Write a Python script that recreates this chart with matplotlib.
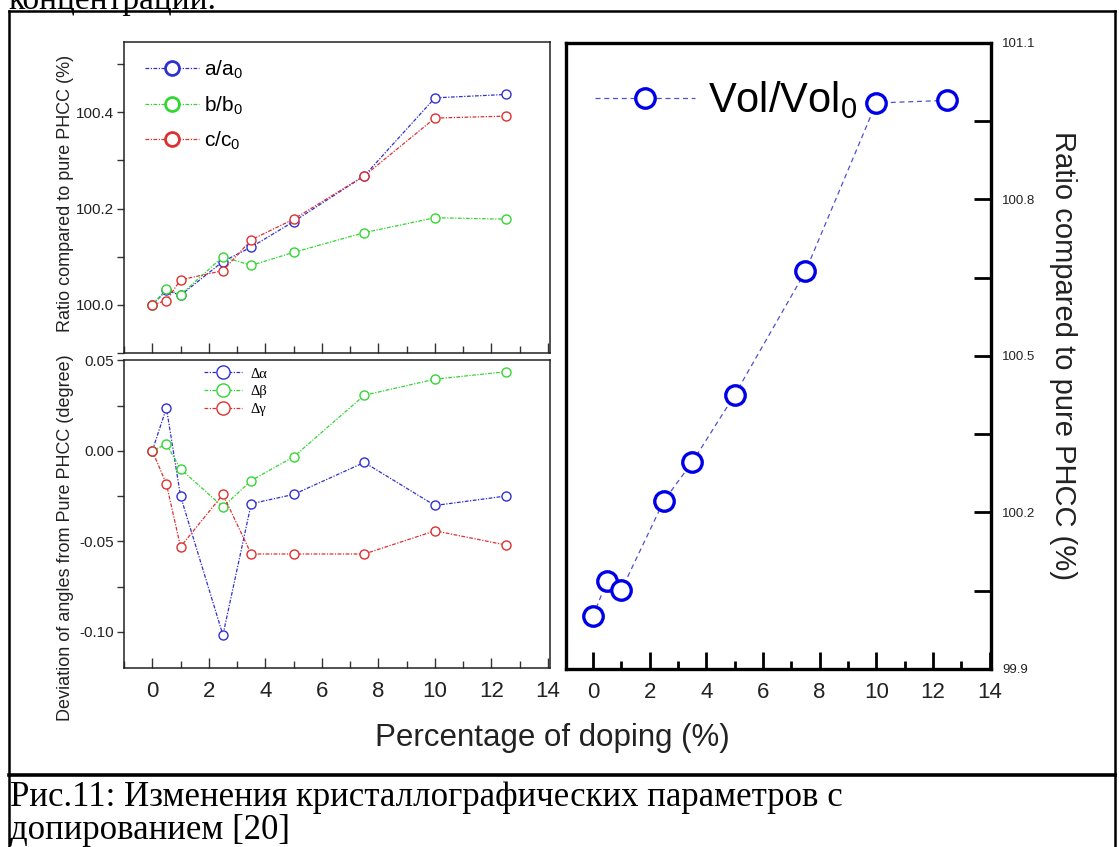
import numpy as np
import matplotlib
matplotlib.use("Agg")
import matplotlib.pyplot as plt
from matplotlib.ticker import MultipleLocator, FixedLocator, FuncFormatter, NullFormatter
from matplotlib.lines import Line2D

plt.rcParams['font.family'] = ['Liberation Sans', 'DejaVu Sans']
plt.rcParams['mathtext.fontset'] = 'custom'
plt.rcParams['mathtext.rm'] = 'Liberation Sans'

# ----------- DATA ------------
doping = [0, 0.5, 1, 2.5, 3.5, 5, 7.5, 10, 12.5]

a_ratio = [100.0, 100.03, 100.02, 100.09, 100.12, 100.173, 100.268, 100.43, 100.437]
b_ratio = [100.0, 100.033, 100.021, 100.10, 100.082, 100.109, 100.15, 100.181, 100.178]
c_ratio = [100.0, 100.009, 100.052, 100.071, 100.135, 100.178, 100.268, 100.388, 100.392]

d_alpha = [0.0, 0.0237, -0.025, -0.1018, -0.0292, -0.0241, -0.0064, -0.0302, -0.025]
d_beta = [0.0, 0.0037, -0.010, -0.031, -0.0164, -0.0033, 0.0307, 0.0396, 0.0437]
d_gamma = [0.0, -0.0183, -0.053, -0.0241, -0.057, -0.057, -0.057, -0.0442, -0.052]

vol_ratio = [100.001, 100.069, 100.051, 100.222, 100.296, 100.425, 100.662, 100.985, 100.99]

vol_major = [99.9, 100.2, 100.5, 100.8, 101.1]
vol_minor = [100.05, 100.35, 100.65, 100.95]

lattice_labels = [r'a/a$_\mathregular{0}$', r'b/b$_\mathregular{0}$', r'c/c$_\mathregular{0}$']
angle_labels = ['\u0394\u03b1', '\u0394\u03b2', '\u0394\u03b3']
vol_label = r'Vol/Vol$_\mathregular{0}$'

top_text = 'концентрации.'
caption_1 = 'Рис.11: Изменения кристаллографических параметров с'
caption_2 = 'допированием [20]'

# ----------- STYLE ------------
BLUE = '#3030d0'
GREEN = '#33d633'
RED = '#dd3030'
VBLUE = '#0000e8'
dashdot = (0, (3, 1.2, 1, 1.2))

W, H = 1119, 847
fig = plt.figure(figsize=(W / 100, H / 100), dpi=100)


def box(x0, y0, x1, y1):
    # pixel box (top-left origin) -> figure rect
    return [x0 / W, 1 - y1 / H, (x1 - x0) / W, (y1 - y0) / H]


# ----------- DOCUMENT FRAME ------------
fig.add_artist(Line2D([9 / W, 1115 / W], [1 - 11 / H, 1 - 11 / H], color='black', lw=1.8))
fig.add_artist(Line2D([9 / W, 9 / W], [1 - 11 / H, 0], color='black', lw=1.8))
fig.add_artist(Line2D([1115 / W, 1115 / W], [1 - 11 / H, 0], color='black', lw=1.8))
fig.add_artist(Line2D([9 / W, 1115 / W], [1 - 775 / H, 1 - 775 / H], color='black', lw=2.6))

fig.text(8 / W, 1 - 9 / H, top_text, family='Liberation Serif', fontsize=24,
         va='baseline', ha='left')
fig.text(10 / W, 1 - 806 / H, caption_1, family='Liberation Serif', fontsize=25,
         va='baseline', ha='left')
fig.text(10 / W, 1 - 839 / H, caption_2, family='Liberation Serif', fontsize=25,
         va='baseline', ha='left')

# ----------- TOP LEFT: lattice ratios ------------
ax1 = fig.add_axes(box(124, 42, 550, 353))
for vals, col in [(a_ratio, BLUE), (b_ratio, GREEN), (c_ratio, RED)]:
    ax1.plot(doping, vals, color=col, lw=0.9, ls=dashdot, marker='o', ms=6.5,
             mfc='white', mec=col, mew=1.0)
ax1.set_xlim(-1, 14.07)
ax1.set_ylim(99.9, 100.546)
ax1.xaxis.set_major_locator(MultipleLocator(2))
ax1.xaxis.set_minor_locator(MultipleLocator(1))
ax1.yaxis.set_major_locator(MultipleLocator(0.2))
ax1.yaxis.set_minor_locator(MultipleLocator(0.1))
ax1.yaxis.set_major_formatter(FuncFormatter(lambda v, p: f'{v:.1f}'))
ax1.tick_params(axis='x', which='both', direction='in', labelbottom=False, width=1, color='#333')
ax1.tick_params(axis='x', which='major', length=7)
ax1.tick_params(axis='x', which='minor', length=5)
ax1.tick_params(axis='y', which='both', direction='out', length=5, width=1, color='#333',
                labelsize=11, pad=2, labelcolor='#222')

h1 = [Line2D([], [], color=c, lw=0.9, ls=dashdot, marker='o', ms=10, mfc='white',
             mec=c, mew=2) for c in (BLUE, GREEN, RED)]
ax1.legend(h1, lattice_labels, loc='upper left', bbox_to_anchor=(0.025, 0.98),
           frameon=False, fontsize=15, handlelength=2.6, handletextpad=0.25,
           labelspacing=0.62, borderpad=0)

# ----------- BOTTOM LEFT: angle deviations ------------
ax2 = fig.add_axes(box(124, 360, 550, 668))
for vals, col in [(d_alpha, BLUE), (d_beta, GREEN), (d_gamma, RED)]:
    ax2.plot(doping, vals, color=col, lw=0.9, ls=dashdot, marker='o', ms=6.5,
             mfc='white', mec=col, mew=1.0)
ax2.set_xlim(-1, 14.07)
ax2.set_ylim(-0.12, 0.0502)
ax2.xaxis.set_major_locator(MultipleLocator(2))
ax2.xaxis.set_minor_locator(MultipleLocator(1))
ax2.yaxis.set_major_locator(MultipleLocator(0.05))
ax2.yaxis.set_minor_locator(MultipleLocator(0.025))
ax2.yaxis.set_major_formatter(FuncFormatter(lambda v, p: f'{v + 0.0:.2f}'.replace('-0.00', '0.00')))
ax2.tick_params(axis='x', which='both', direction='in', width=1, color='#333',
                labelsize=16, pad=9, labelcolor='#222')
ax2.tick_params(axis='x', which='major', length=7)
ax2.tick_params(axis='x', which='minor', length=5)
ax2.tick_params(axis='y', which='both', direction='out', length=5, width=1, color='#333',
                labelsize=11, pad=2, labelcolor='#222')

h2 = [Line2D([], [], color=c, lw=0.9, ls=dashdot, marker='o', ms=9.5, mfc='white',
             mec=c, mew=1.0) for c in (BLUE, GREEN, RED)]
leg2 = ax2.legend(h2, angle_labels, loc='upper left', bbox_to_anchor=(0.17, 1.0),
                  frameon=False, fontsize=10.5, handlelength=2.6, handletextpad=0.6,
                  labelspacing=0.3, borderpad=0)
for t in leg2.get_texts():
    t.set_family('Liberation Serif')

for ax in (ax1, ax2):
    for s in ax.spines.values():
        s.set_linewidth(1.1)
        s.set_color('#222')

fig.text(66 / W, 1 - 193 / H, 'Ratio compared to pure PHCC (%)', rotation=90,
         ha='center', va='center', fontsize=13, color='#222')
fig.text(66 / W, 1 - 538 / H, 'Deviation of angles from Pure PHCC (degree)', rotation=90,
         ha='center', va='center', fontsize=13, color='#222')

# ----------- RIGHT: volume ratio ------------
ax3 = fig.add_axes(box(566, 43, 991, 669))
ax3.plot(doping, vol_ratio, color='#5050d0', lw=0.9, ls=(0, (4, 3)), marker='o', ms=14,
         mfc='white', mec=VBLUE, mew=2.4)
ax3.set_xlim(-0.95, 14.05)
ax3.set_ylim(99.9, 101.1)
ax3.xaxis.set_major_locator(MultipleLocator(2))
ax3.xaxis.set_minor_locator(MultipleLocator(1))
ax3.yaxis.set_major_locator(FixedLocator(vol_major))
ax3.yaxis.set_minor_locator(FixedLocator(vol_minor))
ax3.yaxis.set_major_formatter(FuncFormatter(lambda v, p: f'{v:.1f}'))
ax3.yaxis.set_minor_formatter(NullFormatter())
ax3.yaxis.tick_right()
ax3.yaxis.set_label_position('right')
ax3.tick_params(axis='x', which='both', direction='in', width=2, labelsize=16, pad=9,
                labelcolor='#222')
ax3.tick_params(axis='x', which='major', length=12)
ax3.tick_params(axis='x', which='minor', length=6)
ax3.tick_params(axis='y', which='both', direction='in', length=12, width=2,
                labelsize=9.5, pad=8, labelcolor='#222')
for s in ax3.spines.values():
    s.set_linewidth(2.4)
ax3.set_ylabel('Ratio compared to pure PHCC (%)', rotation=-90, fontsize=21,
               labelpad=30, color='#222')

h3 = [Line2D([], [], color='#5050d0', lw=0.9, ls=(0, (4, 3)), marker='o', ms=14,
             mfc='white', mec=VBLUE, mew=2.4)]
ax3.legend(h3, [vol_label], loc='upper left', bbox_to_anchor=(0.02, 0.975),
           frameon=False, fontsize=30, handlelength=2.4, handletextpad=0.3, borderpad=0)

fig.text(552 / W, 1 - 738 / H, 'Percentage of doping (%)', ha='center', va='center',
         fontsize=22.5, color='#222')

fig.savefig('out.png', dpi=100)
